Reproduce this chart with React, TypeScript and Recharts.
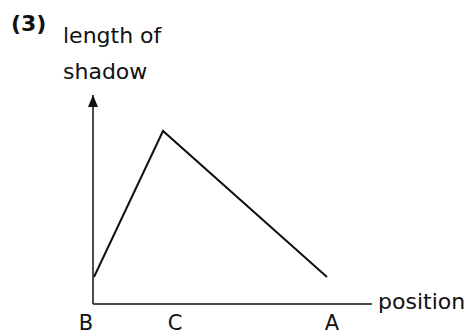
import React from 'react';
import { LineChart, Line, XAxis, YAxis, ReferenceDot } from 'recharts';

// positions along the track, B is the origin
const positionTicks = [0, 82, 239];
const positionLabels = ['B', 'C', 'A'];

// sampled points of the shadow curve
const positions = [1, 70, 234];
const shadowLengths = [27, 173, 27];

const axisMax = { x: 279, y: 209 };

const data = positions.map((p, i) => ({ position: p, length: shadowLengths[i] }));

const font = '"DejaVu Sans", sans-serif';

const PositionTick = (props: any) => {
    const { x, payload, index } = props;
    // B sits just left of the origin
    const dx = index === 0 ? -7 : 0;
    return (
        <text x={x + dx} y={330} textAnchor="middle" fontFamily={font} fontSize={21} fill="#111">
            {positionLabels[positionTicks.indexOf(payload.value)]}
        </text>
    );
};

const ArrowHead = (props: any) => {
    const { cx, cy } = props;
    return <path d={`M${cx},${cy} L${cx - 5},${cy + 12} L${cx + 5},${cy + 12} Z`} fill="#111" />;
};

const textStyle: React.CSSProperties = {
    position: 'absolute',
    fontFamily: font,
    fontSize: 22,
    lineHeight: 1,
    color: '#111',
    whiteSpace: 'nowrap',
};

export default function App() {
    return (
        <div style={{ position: 'absolute', left: 0, top: 0, width: 473, height: 336, background: '#fff' }}>
            <div style={{ ...textStyle, left: 11, top: 13, fontSize: 22, fontWeight: 'bold' }}>(3)</div>
            <div style={{ ...textStyle, left: 63, top: 25 }}>length of</div>
            <div style={{ ...textStyle, left: 63, top: 61 }}>shadow</div>
            <div style={{ ...textStyle, left: 378, top: 291 }}>position</div>
            <LineChart
                width={473}
                height={336}
                data={data}
                margin={{ top: 95, right: 101, bottom: 2, left: 83 }}
            >
                <XAxis
                    dataKey="position"
                    type="number"
                    domain={[0, axisMax.x]}
                    ticks={positionTicks}
                    height={30}
                    tickLine={false}
                    axisLine={{ stroke: '#111', strokeWidth: 1.5 }}
                    tick={<PositionTick />}
                    interval={0}
                />
                <YAxis
                    type="number"
                    domain={[0, axisMax.y]}
                    width={10}
                    tick={false}
                    tickLine={false}
                    axisLine={{ stroke: '#111', strokeWidth: 1.5 }}
                />
                <ReferenceDot x={0} y={axisMax.y} ifOverflow="visible" shape={<ArrowHead />} />
                <Line
                    type="linear"
                    dataKey="length"
                    stroke="#111"
                    strokeWidth={2}
                    dot={false}
                    isAnimationActive={false}
                />
            </LineChart>
        </div>
    );
}
